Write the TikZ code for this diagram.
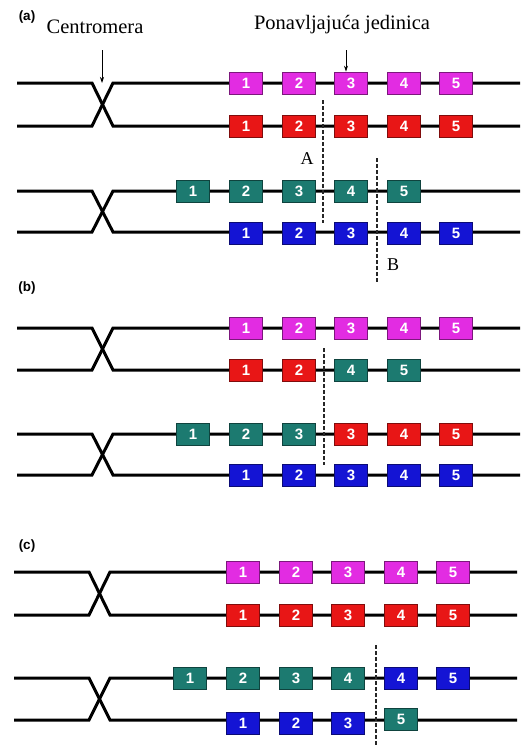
\documentclass[tikz,border=0pt]{standalone}
\usepackage{fontspec}
\setmainfont{Liberation Serif}
\setsansfont{Liberation Sans}
\usetikzlibrary{arrows.meta}

\definecolor{unitmag}{RGB}{226,44,226}
\definecolor{unitred}{RGB}{232,22,22}
\definecolor{unitteal}{RGB}{28,122,112}
\definecolor{unitblue}{RGB}{20,20,212}

\tikzset{
  chrom/.style={line width=3pt},
  unit/.style={rectangle, minimum width=33pt, minimum height=22pt, inner sep=0pt,
    text=white, font=\sffamily\bfseries\fontsize{15}{15}\selectfont, line width=0.8pt},
  mg/.style={unit, fill=unitmag, draw=unitmag!55!black},
  rd/.style={unit, fill=unitred, draw=unitred!55!black},
  tl/.style={unit, fill=unitteal, draw=unitteal!55!black},
  bl/.style={unit, fill=unitblue, draw=unitblue!55!black},
  cut/.style={line width=1.1pt, black!85, dash pattern=on 3.5pt off 2.5pt},
  pointer/.style={line width=0.8pt, -{Stealth[length=6pt,width=4pt]}},
  panel/.style={font=\sffamily\bfseries\fontsize{13.5}{14}\selectfont},
  lbl/.style={font=\fontsize{20.5}{21}\selectfont},
  cutlbl/.style={font=\fontsize{18}{18}\selectfont}
}

% pair of chromatids joined at the centromere
\newcommand\chrpair[3]{%
  \coordinate (#1tl) at (17,#2);  \coordinate (#1ta) at (92,#2);
  \coordinate (#1tb) at (113,#2); \coordinate (#1tr) at (520,#2);
  \coordinate (#1bl) at (17,#3);  \coordinate (#1ba) at (92,#3);
  \coordinate (#1bb) at (113,#3); \coordinate (#1br) at (520,#3);
  \draw[chrom] (#1tl) -- (#1ta) -- (#1bb) -- (#1br);
  \draw[chrom] (#1bl) -- (#1ba) -- (#1tb) -- (#1tr);
}

\begin{document}
\begin{tikzpicture}[x=1pt, y=-1pt]
  \useasboundingbox (0,0) rectangle (520,747);

  % (a)
  \node[panel] (pa) at (27,17) {(a)};
  \node[lbl] (centro) at (95,27) {Centromera};
  \node[lbl] (ponav) at (342,25) {Ponavljajuća jedinica};

  \chrpair{a}{83}{126}
  \chrpair{aa}{191}{232}

  \foreach \x/\n/\s [count=\i] in {246/1/mg,299/2/mg,351/3/mg,404/4/mg,456/5/mg}
    \node[\s] (a1\i) at (\x,83) {\n};
  \foreach \x/\n/\s [count=\i] in {246/1/rd,299/2/rd,351/3/rd,404/4/rd,456/5/rd}
    \node[\s] (a2\i) at (\x,126) {\n};
  \foreach \x/\n/\s [count=\i] in {193/1/tl,246/2/tl,299/3/tl,351/4/tl,404/5/tl}
    \node[\s] (a3\i) at (\x,191) {\n};
  \foreach \x/\n/\s [count=\i] in {246/1/bl,299/2/bl,351/3/bl,404/4/bl,456/5/bl}
    \node[\s] (a4\i) at (\x,233) {\n};

  \coordinate (cenarrow) at (102,50);
  \coordinate (unitarrow) at (346,50);
  \draw[pointer] (cenarrow) -- (cenarrow |- atl);
  \draw[pointer] (unitarrow) -- (unitarrow |- a13.north);

  \coordinate (aAt) at (323,100);
  \coordinate (aAb) at (323,223);
  \coordinate (aBt) at (377,158);
  \coordinate (aBb) at (377,283);
  \draw[cut] (aAt) -- (aAb);
  \draw[cut] (aBt) -- (aBb);
  \node[cutlbl] (cutA) at (307,159) {A};
  \node[cutlbl] (cutB) at (393,265) {B};

  % (b)
  \node[panel] (pb) at (27,288) {(b)};

  \chrpair{b}{328}{370}
  \chrpair{bb}{434}{475}

  \foreach \x/\n/\s [count=\i] in {246/1/mg,299/2/mg,351/3/mg,404/4/mg,456/5/mg}
    \node[\s] (b1\i) at (\x,328) {\n};
  \foreach \x/\n/\s [count=\i] in {246/1/rd,299/2/rd,351/4/tl,404/5/tl}
    \node[\s] (b2\i) at (\x,370) {\n};
  \foreach \x/\n/\s [count=\i] in {193/1/tl,246/2/tl,299/3/tl,351/3/rd,404/4/rd,456/5/rd}
    \node[\s] (b3\i) at (\x,434) {\n};
  \foreach \x/\n/\s [count=\i] in {246/1/bl,299/2/bl,351/3/bl,404/4/bl,456/5/bl}
    \node[\s] (b4\i) at (\x,475) {\n};

  \coordinate (bAt) at (324,348);
  \coordinate (bAb) at (324,465);
  \draw[cut] (bAt) -- (bAb);

  % (c)
  \node[panel] (pc) at (27,546) {(c)};

  \begin{scope}[xshift=-3pt]
    \chrpair{c}{572}{615}
    \chrpair{cc}{678}{720}

    \foreach \x/\n/\s [count=\i] in {246/1/mg,299/2/mg,351/3/mg,404/4/mg,456/5/mg}
      \node[\s] (c1\i) at (\x,572) {\n};
    \foreach \x/\n/\s [count=\i] in {246/1/rd,299/2/rd,351/3/rd,404/4/rd,456/5/rd}
      \node[\s] (c2\i) at (\x,615) {\n};
    \foreach \x/\n/\s [count=\i] in {193/1/tl,246/2/tl,299/3/tl,351/4/tl,404/4/bl,456/5/bl}
      \node[\s] (c3\i) at (\x,678) {\n};
    \foreach \x/\n/\s [count=\i] in {246/1/bl,299/2/bl,351/3/bl}
      \node[\s] (c4\i) at (\x,723) {\n};
    \node[tl] (c44) at (404,719) {5};

    \coordinate (cAt) at (379,645);
    \coordinate (cAb) at (379,747);
    \draw[cut] (cAt) -- (cAb);
  \end{scope}
\end{tikzpicture}
\end{document}
